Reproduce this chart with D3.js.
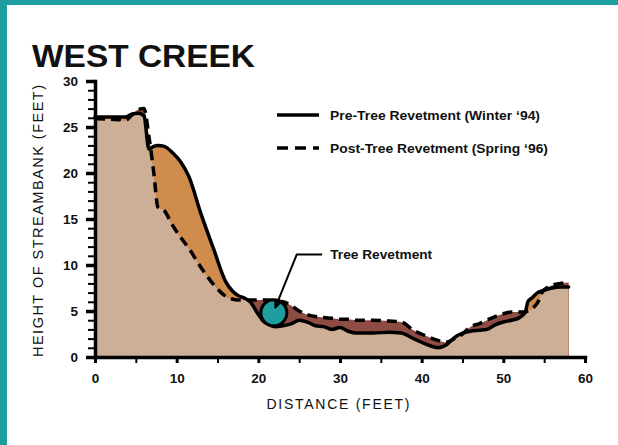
<!DOCTYPE html>
<html>
<head>
<meta charset="utf-8">
<script src="https://cdn.jsdelivr.net/npm/d3@7/dist/d3.min.js"></script>
<style>
    body { margin: 0; background: #fff; }
    svg text { font-family: "Liberation Sans", Arial, sans-serif; fill: #111; }
</style>
</head>
<body>
<svg id="chart" width="618" height="445"></svg>
<script>
    // distance along the transect (feet), shared by both profiles
    var distance = [0, 3, 3.7, 4.5, 5.3, 6.0, 6.6, 7.2, 7.7, 8.5, 9.5, 10.5, 11.5, 13, 14.5, 16, 16.8, 17.5, 18.3,
        19, 19.8, 20.5, 21.3, 22, 23, 24, 25, 26, 27, 28, 29, 30, 31, 32, 34, 36, 37.5, 39, 40.5, 42, 43, 44,
        45, 46, 47, 48, 49, 50, 51, 52, 52.7, 53.0, 53.6, 54.2, 54.8, 56, 57, 58];

    // Pre-Tree Revetment (Winter '94) bank height, feet
    var preHeight = [26.1, 26.1, 26.1, 26.4, 26.5, 26.2, 22.6, 22.9, 23.0, 22.9, 22.2, 21.2, 19.6, 15.5, 11.8, 8.2, 7.2, 6.7, 6.4,
        6.0, 4.9, 4.0, 3.5, 3.3, 3.4, 3.6, 4.0, 3.8, 3.4, 3.3, 3.0, 3.2, 2.8, 2.6, 2.6, 2.7, 2.6, 2.0, 1.4, 1.0, 1.3, 2.1,
        2.6, 2.8, 2.9, 3.0, 3.5, 3.8, 4.0, 4.3, 4.9, 6.0, 6.5, 7.0, 7.2, 7.5, 7.6, 7.6];

    // Post-Tree Revetment (Spring '96) bank height, feet
    var postHeight = [25.9, 25.8, 25.7, 26.3, 26.9, 27.0, 24.0, 20.0, 16.3, 15.9, 14.3, 13.0, 11.8, 9.7, 7.9, 6.6, 6.3, 6.2, 6.2,
        6.2, 6.2, 6.2, 6.2, 6.1, 6.0, 5.6, 5.0, 4.6, 4.4, 4.3, 4.2, 4.1, 4.1, 4.0, 4.0, 3.9, 3.8, 2.9, 2.3, 1.8, 1.6, 2.0,
        2.5, 3.3, 3.6, 4.0, 4.4, 4.7, 4.9, 4.9, 4.9, 5.0, 5.3, 5.9, 7.1, 7.8, 8.0, 8.1];

    var xTicks = [0, 5, 10, 15, 20, 25, 30, 35, 40, 45, 50, 55, 60];
    var yTicks = d3.range(0, 31);

    var tree = {distance: 21.9, height: 4.8};
    var treeLabel = {text: "Tree Revetment", distance: 28.8, height: 10.7, kneeDistance: 24.7, tipDistance: 22.05, tipHeight: 5.3};

    var legendItems = [
        {label: "Pre-Tree Revetment (Winter \u201894)", dash: null},
        {label: "Post-Tree Revetment (Spring \u201896)", dash: "11,7"}
    ];

    var profile = distance.map(function(d, i) {
        return {d: d, pre: preHeight[i], post: postHeight[i]};
    });

    var svg = d3.select("#chart");

    // teal frame
    svg.append("rect").attr("x", 0).attr("y", 0).attr("width", 618).attr("height", 5).attr("fill", "#1f9ea0");
    svg.append("rect").attr("x", 0).attr("y", 0).attr("width", 7).attr("height", 445).attr("fill", "#1f9ea0");

    var x = d3.scaleLinear().domain([0, 60]).range([95, 585]);
    var y = d3.scaleLinear().domain([0, 30]).range([357, 81]);

    var curve = d3.curveMonotoneX;

    var areaPre = d3.area().curve(curve)
        .x(function(d) { return x(d.d); })
        .y0(y(0))
        .y1(function(d) { return y(d.pre); });
    var areaPost = d3.area().curve(curve)
        .x(function(d) { return x(d.d); })
        .y0(y(0))
        .y1(function(d) { return y(d.post); });
    var linePre = d3.line().curve(curve)
        .x(function(d) { return x(d.d); })
        .y(function(d) { return y(d.pre); });
    var linePost = d3.line().curve(curve)
        .x(function(d) { return x(d.d); })
        .y(function(d) { return y(d.post); });

    svg.append("defs").append("clipPath").attr("id", "under-post")
        .append("path").datum(profile).attr("d", areaPost);

    // erosion (orange) where pre above post, deposition (maroon) where post above pre
    svg.append("path").datum(profile).attr("fill", "#d08c4c").attr("d", areaPre);
    svg.append("path").datum(profile).attr("fill", "#8e4c44").attr("d", areaPost);
    svg.append("path").datum(profile).attr("fill", "#cdae97")
        .attr("clip-path", "url(#under-post)").attr("d", areaPre);

    // axes
    var yAxis = svg.append("g")
        .attr("transform", "translate(" + x(0) + ",0)")
        .call(d3.axisLeft(y).tickValues(yTicks).tickSize(8).tickSizeOuter(0).tickPadding(9)
            .tickFormat(function(d) { return d % 5 === 0 ? d : ""; }));

    var xAxis = svg.append("g")
        .attr("transform", "translate(0," + y(0) + ")")
        .call(d3.axisBottom(x).tickValues(xTicks).tickSize(6).tickSizeOuter(0).tickPadding(10)
            .tickFormat(function(d) { return d % 10 === 0 ? d : ""; }));

    [yAxis, xAxis].forEach(function(ax) {
        ax.select(".domain").attr("stroke", "#000").attr("stroke-width", 3.5).attr("stroke-linecap", "square");
        ax.selectAll(".tick text").attr("font-size", 13.5).attr("font-weight", "bold").attr("fill", "#111")
            .style("font-family", "'Liberation Sans', Arial, sans-serif");
    });
    yAxis.selectAll(".tick line").attr("stroke", "#000")
        .attr("stroke-width", function(d) { return d % 5 === 0 ? 3.5 : 2; })
        .attr("x2", function(d) { return d % 5 === 0 ? -9 : -7; });
    xAxis.selectAll(".tick line").attr("stroke", "#000")
        .attr("stroke-width", function(d) { return d % 10 === 0 ? 3 : 2; });

    // profile lines
    svg.append("path").datum(profile)
        .attr("fill", "none").attr("stroke", "#000").attr("stroke-width", 3.5)
        .attr("stroke-linejoin", "round").attr("stroke-linecap", "round")
        .attr("d", linePre);
    svg.append("path").datum(profile)
        .attr("fill", "none").attr("stroke", "#000").attr("stroke-width", 3.5)
        .attr("stroke-dasharray", "10,6")
        .attr("d", linePost);

    // tree revetment
    svg.append("circle")
        .attr("cx", x(tree.distance)).attr("cy", y(tree.height)).attr("r", 13)
        .attr("fill", "#1f9ea0").attr("stroke", "#000").attr("stroke-width", 3);

    svg.select("defs").append("marker")
        .attr("id", "arrow").attr("viewBox", "0 0 10 10").attr("refX", 9).attr("refY", 5)
        .attr("markerWidth", 4).attr("markerHeight", 4).attr("orient", "auto")
        .append("path").attr("d", "M0,0 L10,5 L0,10 Z").attr("fill", "#000");

    svg.append("path")
        .attr("d", d3.line()([
            [x(treeLabel.distance) - 8, y(treeLabel.height) - 4],
            [x(treeLabel.kneeDistance), y(treeLabel.height) - 4],
            [x(treeLabel.tipDistance), y(treeLabel.tipHeight)]
        ]))
        .attr("fill", "none").attr("stroke", "#000").attr("stroke-width", 2)
        .attr("marker-end", "url(#arrow)");

    svg.append("text")
        .attr("x", x(treeLabel.distance)).attr("y", y(treeLabel.height))
        .attr("font-size", 13).attr("font-weight", "bold")
        .attr("textLength", 102).attr("lengthAdjust", "spacingAndGlyphs")
        .text(treeLabel.text);

    // legend
    var legendWidths = [210, 218];
    var legend = svg.append("g").attr("transform", "translate(277,115)");
    var li = legend.selectAll("g").data(legendItems).enter().append("g")
        .attr("transform", function(d, i) { return "translate(0," + i * 33 + ")"; });
    li.append("line").attr("x1", 0).attr("x2", 42).attr("y1", 0).attr("y2", 0)
        .attr("stroke", "#000").attr("stroke-width", 3.5)
        .attr("stroke-dasharray", function(d) { return d.dash; });
    li.append("text").attr("x", 53).attr("y", 4.5).attr("font-size", 13).attr("font-weight", "bold")
        .attr("textLength", function(d, i) { return legendWidths[i]; })
        .attr("lengthAdjust", "spacingAndGlyphs")
        .text(function(d) { return d.label; });

    // titles
    svg.append("text").attr("x", 32).attr("y", 67)
        .attr("font-size", 31).attr("font-weight", "bold")
        .attr("textLength", 223).attr("lengthAdjust", "spacingAndGlyphs")
        .text("WEST CREEK");

    svg.append("text")
        .attr("x", 338).attr("y", 409).attr("text-anchor", "middle")
        .attr("font-size", 14).attr("fill", "#222")
        .attr("textLength", 143).attr("lengthAdjust", "spacing")
        .text("DISTANCE (FEET)");

    svg.append("text")
        .attr("transform", "translate(43,221) rotate(-90)")
        .attr("text-anchor", "middle")
        .attr("font-size", 14.5).attr("fill", "#222")
        .attr("textLength", 272).attr("lengthAdjust", "spacing")
        .text("HEIGHT OF STREAMBANK (FEET)");
</script>
</body>
</html>
